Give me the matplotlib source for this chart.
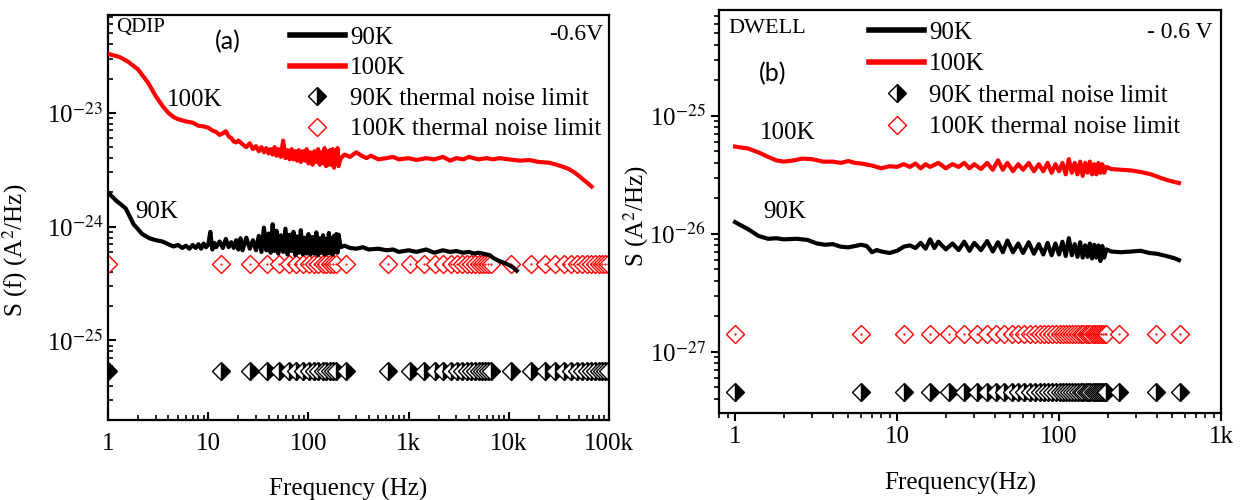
import matplotlib
matplotlib.use('Agg')
import matplotlib.pyplot as plt
from matplotlib.lines import Line2D
from matplotlib.ticker import FixedLocator, FixedFormatter, LogLocator, NullFormatter

plt.rcParams['font.family'] = ['Liberation Serif', 'DejaVu Serif']
plt.rcParams['mathtext.fontset'] = 'stix'

# ---- panel (a) QDIP, -0.6 V ----
qdip_f90 = [1, 1.2, 1.5, 1.8, 2.2, 2.6, 3, 3.5, 4, 4.5, 5, 5.5, 6, 6.5, 7, 7.5, 8, 8.5, 9, 9.5,
            10, 10.5, 11, 11.5, 12, 13, 14, 15, 16, 17, 18, 19, 20, 21, 22, 24, 26, 28, 30, 32,
            34, 36, 38, 40, 42, 44, 46, 48, 50, 53, 56, 59, 62, 65, 68, 71, 74, 77, 80, 84,
            88, 92, 96, 100, 105, 110, 115, 120, 125, 130, 135, 140, 145, 150, 155, 160, 165, 170, 175, 180,
            185, 190, 195, 200, 210, 230, 260, 300, 350, 400, 500, 600, 700, 800, 1000, 1200, 1500, 1800, 2200, 2600,
            3000, 3500, 4000, 4500, 5000, 5500, 6000, 6500, 7000, 8000, 9000, 10000, 11000, 12000]
qdip_s90 = [20, 17, 14.5, 10.5, 8.6, 7.9, 7.6, 7.4, 7.0, 6.7, 6.9, 6.5, 6.8, 6.4, 6.9, 6.5, 7.0, 6.4, 7.1, 6.6,
            6.9, 9.0, 6.3, 7.2, 6.6, 7.4, 6.5, 7.8, 6.6, 7.3, 6.5, 7.6, 6.3, 7.9, 6.2, 8.0, 6.4, 7.6, 6.2, 8.3,
            6.0, 9.8, 6.2, 8.7, 5.9, 10.5, 6.1, 9.2, 5.8, 8.4, 6.0, 9.6, 5.7, 8.5, 6.1, 9.0, 5.6, 8.2, 5.9, 9.3,
            5.7, 8.0, 5.8, 8.6, 5.7, 8.1, 5.8, 8.9, 5.6, 7.9, 5.9, 8.4, 5.7, 7.8, 5.8, 8.8, 5.9, 7.9, 5.7, 8.3,
            6.0, 8.6, 5.9, 8.5, 6.6, 6.8, 6.5, 6.4, 6.6, 6.3, 6.4, 6.2, 6.3, 6.0, 6.2, 6.0, 6.3, 5.9, 6.2, 6.0,
            6.1, 5.9, 6.0, 5.8, 5.9, 5.8, 5.7, 5.6, 5.3, 5.0, 4.8, 4.6, 4.4, 4.1]  # x 1e-25

qdip_f100 = [1, 1.3, 1.6, 2, 2.5, 3, 3.5, 4, 4.5, 5, 6, 7, 8, 9, 10, 11, 12, 13, 14, 15,
             16, 17, 18, 19, 20, 22, 24, 26, 28, 30, 32, 34, 36, 38, 40, 42, 44, 46, 48, 50,
             53, 56, 59, 62, 65, 68, 71, 74, 77, 80, 84, 88, 92, 96, 100, 105, 110, 115, 120, 125,
             130, 135, 140, 145, 150, 155, 160, 165, 170, 175, 180, 185, 190, 195, 200, 210, 230, 260, 300, 340,
             380, 420, 500, 600, 700, 800, 1000, 1200, 1500, 1800, 2200, 2600, 3000, 3500, 4000, 5000, 6000, 7000, 8000, 10000,
             13000, 16000, 20000, 25000, 30000, 35000, 40000, 45000, 50000, 55000, 60000, 67000]
qdip_s100 = [33, 31, 28, 24, 18.5, 14, 11.5, 10, 9.2, 8.8, 8.4, 8.2, 7.7, 7.6, 7.4, 7.0, 6.8, 6.4, 6.6, 6.9,
             6.2, 6.0, 5.6, 5.5, 5.7, 5.3, 5.0, 5.4, 4.8, 5.1, 4.6, 5.0, 4.5, 4.9, 4.4, 4.8, 4.3, 5.0, 4.2, 4.8,
             4.1, 5.7, 4.0, 4.7, 3.9, 4.8, 3.9, 4.6, 3.8, 4.7, 3.7, 4.6, 3.8, 4.8, 3.6, 4.5, 3.5, 4.6, 3.7, 4.8,
             3.5, 4.5, 3.6, 4.9, 3.4, 4.6, 3.5, 4.7, 3.5, 4.8, 3.3, 4.6, 3.6, 4.9, 3.4, 4.0, 4.3, 4.1, 4.5, 4.2,
             4.0, 4.2, 3.9, 4.0, 4.1, 3.9, 4.0, 3.85, 4.0, 3.9, 4.1, 3.8, 4.0, 3.9, 4.1, 3.9, 4.0, 3.9, 4.0, 3.9,
             3.8, 3.85, 3.7, 3.65, 3.5, 3.35, 3.2, 3.0, 2.8, 2.6, 2.45, 2.25]  # x 1e-24

qdip_tf = [1, 13.5, 26, 38.5, 51, 63.5, 76, 88.5, 101, 113.5, 126, 138.5, 151, 163.5, 176, 188.5, 238,
           625, 1025, 1425, 1825, 2225, 2625, 3025, 3425, 3825, 4225, 4625, 5025, 5425, 5825, 6225, 6625,
           10400, 16650, 22900, 29150, 35400, 41650, 47900, 54150, 60400, 66650, 72900, 79150, 85400, 91650, 97900]
qdip_th90 = 5.4e-26
qdip_th100 = 4.7e-25

# ---- panel (b) DWELL, -0.6 V ----
dwell_f100 = [1, 1.2, 1.4, 1.6, 1.8, 2, 2.3, 2.6, 3, 3.5, 4, 4.5, 5, 5.5, 6, 7, 8, 9, 10, 11,
              12, 13, 14, 15, 16, 18, 20, 22, 24, 26, 28, 30, 33, 36, 39, 42, 45, 48, 52, 56,
              60, 65, 70, 75, 80, 85, 90, 95, 100, 105, 110, 115, 120, 125, 130, 135, 140, 145, 150, 155,
              160, 165, 170, 175, 180, 185, 190, 196, 210, 240, 280, 320, 370, 420, 470, 520, 550]
dwell_s100 = [5.5, 5.3, 4.9, 4.5, 4.2, 4.1, 4.2, 4.35, 4.3, 4.1, 4.1, 4.0, 4.15, 4.0, 3.95, 3.8, 3.6, 3.75, 3.7, 3.9,
              3.7, 3.95, 3.6, 3.9, 3.7, 4.0, 3.6, 3.9, 3.7, 4.0, 3.6, 3.9, 3.55, 4.0, 3.5, 4.2, 3.5, 4.0, 3.4, 3.9,
              3.5, 4.0, 3.4, 3.9, 3.4, 4.0, 3.3, 3.9, 3.4, 4.0, 3.2, 4.3, 3.3, 4.0, 3.2, 4.1, 3.1, 4.0, 3.3, 4.1,
              3.2, 3.9, 3.2, 4.0, 3.3, 3.9, 3.3, 3.7, 3.55, 3.5, 3.45, 3.35, 3.2, 3.0, 2.85, 2.75, 2.7]  # x 1e-26

dwell_f90 = [1, 1.2, 1.4, 1.6, 1.8, 2, 2.4, 2.8, 3.2, 3.6, 4, 4.5, 5, 5.5, 6, 6.5, 7, 7.5, 8, 9,
             10, 11, 12, 13, 14, 15, 16, 17, 18, 20, 22, 24, 26, 28, 30, 33, 36, 39, 42, 45,
             48, 52, 56, 60, 65, 70, 75, 80, 85, 90, 95, 100, 105, 110, 115, 120, 125, 130, 135, 140,
             145, 150, 155, 160, 165, 170, 175, 180, 185, 190, 196, 210, 240, 280, 320, 360, 400, 440, 480, 520, 550]
dwell_s90 = [12.6, 11.0, 9.6, 9.1, 9.2, 9.0, 9.1, 8.9, 8.3, 8.1, 8.2, 7.8, 7.7, 7.9, 8.1, 7.9, 7.0, 7.3, 7.1, 6.9,
             7.2, 7.8, 8.0, 7.6, 8.4, 7.5, 9.0, 7.6, 8.6, 7.4, 8.3, 7.3, 8.6, 7.2, 8.4, 7.3, 8.7, 7.1, 8.5, 7.0,
             8.8, 7.0, 8.3, 6.9, 8.5, 6.8, 8.2, 6.7, 8.4, 6.6, 8.3, 6.7, 8.6, 6.5, 9.2, 6.6, 8.2, 6.4, 8.5, 6.3,
             8.0, 6.4, 8.3, 6.2, 8.1, 6.3, 8.0, 5.9, 7.9, 6.3, 7.4, 7.1, 7.0, 7.1, 7.2, 6.9, 6.8, 6.6, 6.4, 6.2, 6.0]  # x 1e-27

dwell_tf = [1, 6, 11, 16, 21, 26, 31, 36, 41, 46, 51, 56, 61, 66, 71, 76, 81, 86, 91, 96,
            101, 106, 111, 116, 121, 126, 131, 136, 141, 146, 151, 156, 161, 166, 171, 176, 181, 186, 191, 196,
            236, 396, 556]
dwell_th90 = 4.6e-28
dwell_th100 = 1.42e-27

fig = plt.figure(figsize=(12.42, 5), dpi=100)
ax1 = fig.add_axes([0.08696, 0.16, 0.40338, 0.81])
ax2 = fig.add_axes([0.5789, 0.174, 0.40419, 0.806])

MS = 9.5


def draw_panel(ax, f90, s90, f100, s100, tf, th90, th100):
    ax.plot(tf, [th100] * len(tf), 'D', ms=MS, mfc='white', mec='red', mew=1.0, zorder=2)
    ax.plot(tf, [th100] * len(tf), '.', ms=1.2, color='red', zorder=2)
    ax.plot(tf, [th90] * len(tf), 'D', ms=MS, fillstyle='right', mfc='black',
            mfcalt='white', mec='black', mew=1.0, zorder=2)
    ax.plot(f100, s100, '-', color='red', lw=3, zorder=3)
    ax.plot(f90, s90, '-', color='black', lw=3, zorder=4)
    ax.set_xscale('log')
    ax.set_yscale('log')
    for sp in ax.spines.values():
        sp.set_linewidth(1.6)


draw_panel(ax1, qdip_f90, [v * 1e-25 for v in qdip_s90], qdip_f100, [v * 1e-24 for v in qdip_s100],
           qdip_tf, qdip_th90, qdip_th100)
draw_panel(ax2, dwell_f90, [v * 1e-27 for v in dwell_s90], dwell_f100, [v * 1e-26 for v in dwell_s100],
           dwell_tf, dwell_th90, dwell_th100)

ax1.set_xlim(1, 1e5)
ax1.set_ylim(2.0e-26, 7.24e-23)
ax2.set_xlim(0.796, 1000)
ax2.set_ylim(3.04e-28, 7.9e-25)

ax1.xaxis.set_major_locator(FixedLocator([1, 10, 100, 1e3, 1e4, 1e5]))
ax1.xaxis.set_major_formatter(FixedFormatter(['1', '10', '100', '1k', '10k', '100k']))
ax2.xaxis.set_major_locator(FixedLocator([1, 10, 100, 1e3]))
ax2.xaxis.set_major_formatter(FixedFormatter(['1', '10', '100', '1k']))
ax1.yaxis.set_major_locator(FixedLocator([1e-25, 1e-24, 1e-23]))
ax1.yaxis.set_major_formatter(FixedFormatter(['10$^{-25}$', '10$^{-24}$', '10$^{-23}$']))
ax2.yaxis.set_major_locator(FixedLocator([1e-27, 1e-26, 1e-25]))
ax2.yaxis.set_major_formatter(FixedFormatter(['10$^{-27}$', '10$^{-26}$', '10$^{-25}$']))
for ax in (ax1, ax2):
    ax.xaxis.set_minor_locator(LogLocator(base=10, subs=range(2, 10), numticks=20))
    ax.xaxis.set_minor_formatter(NullFormatter())
    ax.yaxis.set_minor_locator(LogLocator(base=10, subs=range(2, 10), numticks=20))
    ax.yaxis.set_minor_formatter(NullFormatter())
    ax.tick_params(axis='both', which='major', labelsize=18, width=1.5, length=6)
    ax.tick_params(axis='both', which='minor', width=1.2, length=3.5)

ax1.tick_params(axis='both', which='both', direction='in')
ax1.tick_params(axis='x', which='major', pad=9)
ax2.tick_params(axis='both', which='both', direction='out')

ax1.set_xlabel('Frequency (Hz)', fontsize=18)
ax1.xaxis.set_label_coords(0.48, -0.143)
ax1.set_ylabel('S (f) (A$^2$/Hz)', fontsize=18)
ax1.yaxis.set_label_coords(-0.156, 0.42)
ax2.set_xlabel('Frequency(Hz)', fontsize=18)
ax2.xaxis.set_label_coords(0.48, -0.146)
ax2.set_ylabel('S (A$^2$/Hz)', fontsize=18)
ax2.yaxis.set_label_coords(-0.135, 0.49)

# annotations
ax1.text(0.016, 0.97, 'QDIP', transform=ax1.transAxes, fontsize=15, va='center', ha='left')
ax1.text(0.24, 0.933, '(a)', transform=ax1.transAxes, fontsize=18, va='center', ha='center',
         family=['Lato', 'DejaVu Sans'])
ax1.text(0.988, 0.951, '-0.6V', transform=ax1.transAxes, fontsize=17, va='center', ha='right')
ax1.text(0.118, 0.79, '100K', transform=ax1.transAxes, fontsize=18, va='center', ha='left')
ax1.text(0.054, 0.514, '90K', transform=ax1.transAxes, fontsize=18, va='center', ha='left')

ax2.text(0.018, 0.955, 'DWELL', transform=ax2.transAxes, fontsize=16, va='center', ha='left')
ax2.text(0.106, 0.843, '(b)', transform=ax2.transAxes, fontsize=18, va='center', ha='center',
         family=['Lato', 'DejaVu Sans'])
ax2.text(0.984, 0.945, '- 0.6 V', transform=ax2.transAxes, fontsize=17, va='center', ha='right')
ax2.text(0.082, 0.695, '100K', transform=ax2.transAxes, fontsize=18, va='center', ha='left')
ax2.text(0.088, 0.499, '90K', transform=ax2.transAxes, fontsize=18, va='center', ha='left')

# legends
handles = [
    Line2D([], [], color='black', lw=4),
    Line2D([], [], color='red', lw=4),
    Line2D([], [], ls='none', marker='D', ms=MS, fillstyle='right', mfc='black', mfcalt='white',
           mec='black', mew=1.0),
    Line2D([], [], ls='none', marker='D', ms=MS, mfc='white', mec='red', mew=1.0),
]
labels = ['90K', '100K', '90K thermal noise limit', '100K thermal noise limit']
for ax, anchor, spacing in ((ax1, (0.363, 0.972), 0.32), (ax2, (0.299, 0.972), 0.36)):
    ax.legend(handles, labels, loc='upper left', bbox_to_anchor=anchor, frameon=False, fontsize=18,
              borderpad=0, borderaxespad=0, handlelength=2.2, handletextpad=0.2, labelspacing=spacing)

fig.savefig('out.png', dpi=100)
